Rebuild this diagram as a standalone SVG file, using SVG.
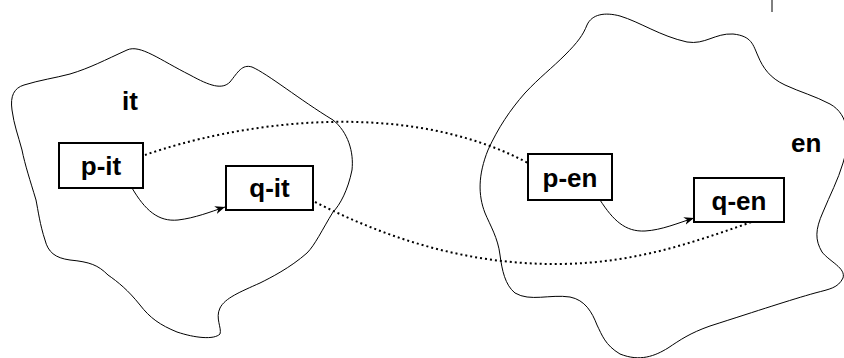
<svg xmlns="http://www.w3.org/2000/svg" width="844" height="358" viewBox="0 0 844 358">
  <defs>
    <style>
      .blob { fill: none; stroke: #000; stroke-width: 1; }
      .box { fill: #fff; stroke: #000; stroke-width: 2; }
      .lbl { font-family: "Liberation Sans", Arial, sans-serif; font-weight: bold; font-size: 26px; fill: #000; }
      .mid { text-anchor: middle; }
      .edge { fill: none; stroke: #000; stroke-width: 1; }
      .dot { fill: none; stroke: #000; stroke-width: 2; stroke-dasharray: 2 3; }
    </style>
    <marker id="arrow" viewBox="0 0 10 8" refX="10" refY="4" markerWidth="10" markerHeight="8" markerUnits="userSpaceOnUse" orient="auto">
      <path d="M0,0 L10,4 L0,8 L3,4 Z" fill="#000"/>
    </marker>
  </defs>

  <!-- regions -->
  <g id="region-it">
    <path class="blob" d="M127,50 C140,44 160,60 190,75 C210,86 222,90 230,82 C238,72 242,64 252,67 C268,74 300,100 333,120 C348,132 354,152 352,170 C348,190 340,205 333,212 C322,230 315,245 307,253 C290,268 270,278 260,283 C240,292 225,298 220,308 C215,318 222,328 220,334 C214,340 195,338 177,332 C160,325 150,318 140,305 C128,290 118,282 108,275 C98,265 90,262 70,260 C55,258 48,252 45,240 C40,225 38,210 36,200 C30,180 25,165 22,150 C18,135 14,125 12,110 C10,96 14,88 24,85 C40,80 55,78 70,74 C90,68 105,60 127,50 Z"/>
    <text class="lbl" x="122" y="110">it</text>
  </g>

  <g id="region-en">
    <path class="blob" d="M587,25 C592,14 605,12 620,16 C640,22 660,36 687,42 C705,45 715,33 733,34 C752,36 753,45 758,56 C763,68 770,78 785,85 C800,92 815,96 830,104 C850,115 850,140 843,163 C838,180 830,195 823,212 C815,230 815,240 822,252 C830,262 846,268 843,278 C838,288 830,289 815,293 C790,300 760,310 710,326 C690,333 680,340 668,348 C655,356 640,362 620,354 C605,345 602,335 597,325 C592,312 585,300 570,297 C550,294 530,302 515,293 C505,285 502,270 500,255 C498,238 490,225 485,213 C478,195 478,175 488,150 C498,128 510,110 525,93 C540,77 552,68 565,55 C578,42 583,35 587,25 Z"/>
    <text class="lbl" x="791" y="152">en</text>
  </g>

  <!-- stray mark at the top edge -->
  <line x1="772" y1="0" x2="772" y2="12" stroke="#000" stroke-width="1"/>

  <!-- connectors -->
  <g id="connectors">
    <path class="dot" d="M145,155 C230,125 400,95 528,163"/>
    <path class="dot" d="M315,202 C390,240 470,265 560,264 C640,263 700,240 763,218"/>
    <path class="edge" marker-end="url(#arrow)" d="M132,188 C145,210 158,222 178,220 C195,218 210,212 225,207"/>
    <path class="edge" marker-end="url(#arrow)" d="M600,200 C613,220 625,232 645,231 C662,230 678,223 694,218"/>
  </g>

  <!-- nodes -->
  <g id="p-it">
    <rect class="box" x="59" y="143" width="84" height="45"/>
    <text class="lbl mid" x="101" y="175">p-it</text>
  </g>
  <g id="q-it">
    <rect class="box" x="226" y="166" width="87" height="44"/>
    <text class="lbl mid" x="269.5" y="197">q-it</text>
  </g>
  <g id="p-en">
    <rect class="box" x="528" y="154" width="84" height="46"/>
    <text class="lbl mid" x="570" y="187">p-en</text>
  </g>
  <g id="q-en">
    <rect class="box" x="694" y="178" width="90" height="44"/>
    <text class="lbl mid" x="739" y="210">q-en</text>
  </g>
</svg>
